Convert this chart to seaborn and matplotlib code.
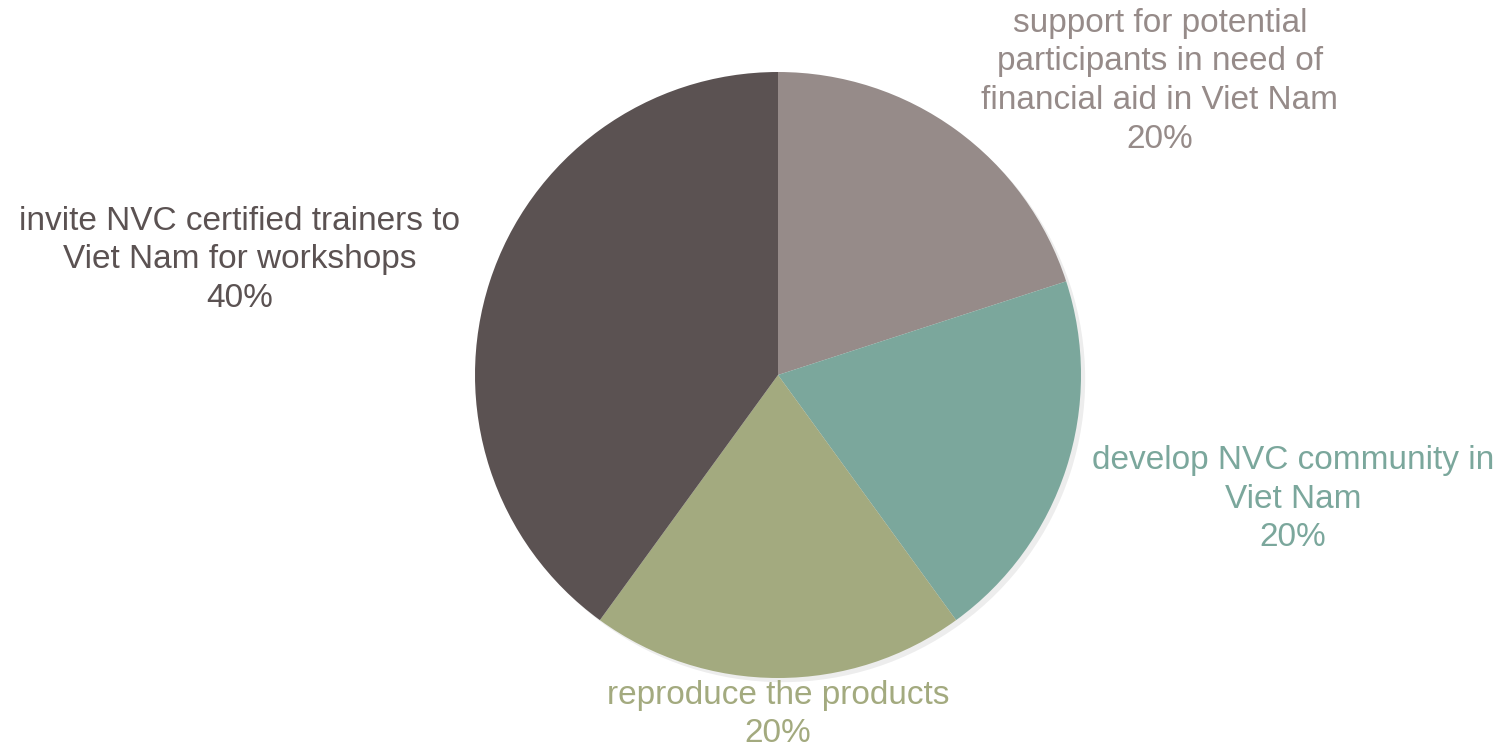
import matplotlib
matplotlib.use("Agg")
import matplotlib.pyplot as plt
import seaborn as sns

# --- DATA ---
CATEGORIES = [
    "support for potential\nparticipants in need of\nfinancial aid in Viet Nam",
    "develop NVC community in\nViet Nam",
    "reproduce the products",
    "invite NVC certified trainers to\nViet Nam for workshops",
]
SHARES = [20, 20, 20, 40]
COLORS = ["#968b89", "#7ba79c", "#a3aa7f", "#5b5252"]

# label anchor points (pie radius = 1)
LABEL_X = [1.26, 1.70, 0.0, -1.776]
LABEL_Y = [0.97, -0.41, -1.12, 0.38]

sns.set_theme(style="white")
plt.rcParams['font.family'] = ['Liberation Sans', 'DejaVu Sans']

fig = plt.figure(figsize=(15.01, 7.51), dpi=100)
ax = fig.add_axes([0, 0, 1, 1])

ax.pie(SHARES, colors=COLORS, startangle=90, counterclock=False,
       radius=1.0, wedgeprops={"linewidth": 0},
       shadow={"ox": 0.01, "oy": -0.01, "shade": 0.95, "alpha": 0.07})

total = sum(SHARES)
for lab, val, col, x, y in zip(CATEGORIES, SHARES, COLORS, LABEL_X, LABEL_Y):
    ax.text(x, y, f"{lab}\n{val / total:.0%}", ha="center", va="center",
            color=col, fontsize=24, linespacing=1.32)

scale = 303.0
ax.set_xlim(-778 / scale, (1501 - 778) / scale)
ax.set_ylim(-(751 - 375) / scale, 375 / scale)
ax.set_aspect("equal")
ax.axis("off")

fig.savefig("out.png", dpi=100, facecolor="white")
plt.close()
